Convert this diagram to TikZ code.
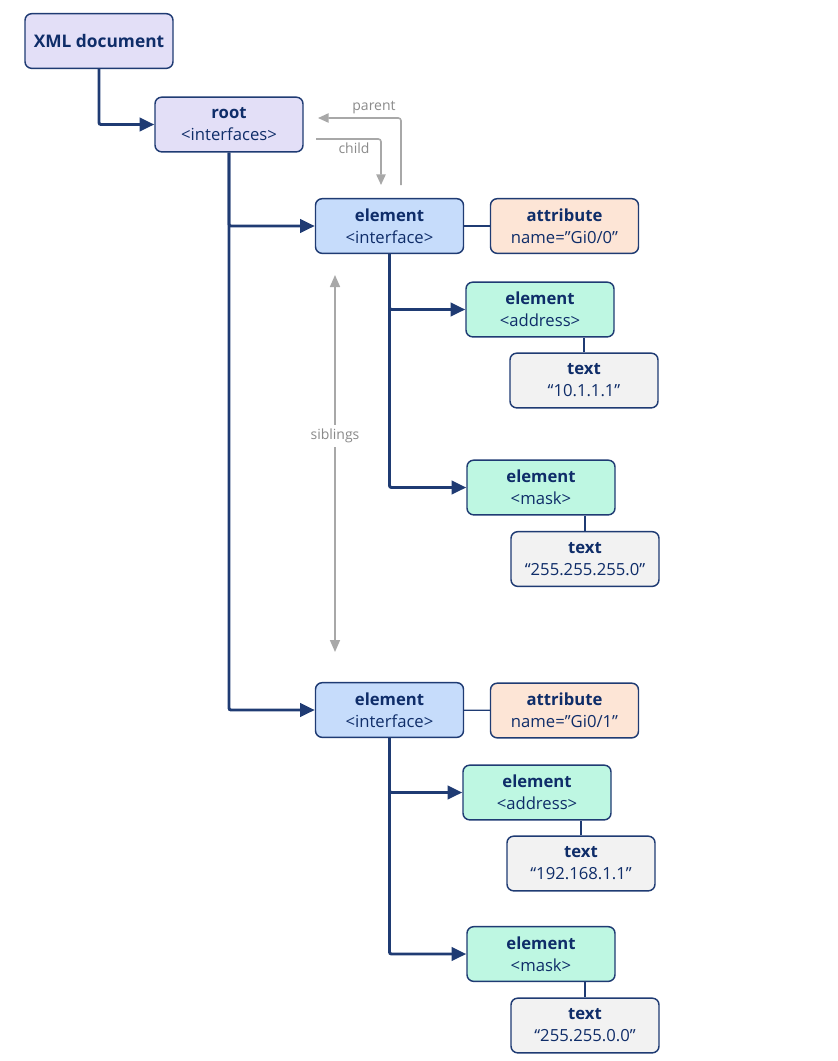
\documentclass[tikz,border=0pt]{standalone}
\usepackage{fontspec}
\setmainfont{Open Sans}
\usetikzlibrary{arrows.meta}
\definecolor{navy}{HTML}{1F3B73}
\definecolor{ink}{HTML}{0F2D69}
\definecolor{docfill}{HTML}{E3DFF7}
\definecolor{elemfill}{HTML}{C6DCFB}
\definecolor{attrfill}{HTML}{FDE5D6}
\definecolor{subfill}{HTML}{BEF7E2}
\definecolor{textfill}{HTML}{F2F2F2}
\definecolor{hint}{HTML}{A8A8A8}
\definecolor{hinttext}{HTML}{8A8A8A}
\tikzset{
  box/.style={draw=navy, line width=1.1pt, rounded corners=5pt, text=ink,
    minimum width=111pt, minimum height=41pt, align=center,
    font=\fontsize{12.5}{16.5}\selectfont, inner sep=2pt},
  docbox/.style={box, fill=docfill},
  elembox/.style={box, fill=elemfill},
  attrbox/.style={box, fill=attrfill},
  subbox/.style={box, fill=subfill},
  textbox/.style={box, fill=textfill},
  tree/.style={draw=navy, line width=2.2pt, -{Triangle[length=11pt,width=10pt]}},
  link/.style={draw=navy, line width=1pt},
  hintarrow/.style={draw=hint, line width=1.2pt, -{Triangle[length=8pt,width=7pt]}},
  hintlabel/.style={text=hinttext, font=\fontsize{10.5}{12}\selectfont}
}
\begin{document}
\begin{tikzpicture}[x=0.75pt, y=-0.75pt]
      \useasboundingbox (0,0) rectangle (838,1061);
      \draw
        (99,41) node[docbox, font=\fontsize{13}{15}\selectfont\bfseries] (doc){XML document}
        (229,124.5) node[docbox] (root){\textbf{root}\\<interfaces>}
        (389.5,226) node[elembox] (iface1){\textbf{element}\\<interface>}
        (564.5,226) node[attrbox] (attr1){\textbf{attribute}\\name=”Gi0/0”}
        (540,309.5) node[subbox] (addr1){\textbf{element}\\<address>}
        (584,380.5) node[textbox] (addrtxt1){\textbf{text}\\“10.1.1.1”}
        (541,487.5) node[subbox] (mask1){\textbf{element}\\<mask>}
        (585,559) node[textbox] (masktxt1){\textbf{text}\\“255.255.255.0”}
        (389.5,710) node[elembox] (iface2){\textbf{element}\\<interface>}
        (564.5,710.5) node[attrbox] (attr2){\textbf{attribute}\\name=”Gi0/1”}
        (537,792.5) node[subbox] (addr2){\textbf{element}\\<address>}
        (581,863.5) node[textbox] (addrtxt2){\textbf{text}\\“192.168.1.1”}
        (541,954) node[subbox] (mask2){\textbf{element}\\<mask>}
        (585,1025.5) node[textbox] (masktxt2){\textbf{text}\\“255.255.0.0”};
      % hints
      \coordinate (parentfrom) at (401,185);
      \coordinate (parentto) at (318,118);
      \coordinate (childfrom) at (316,139);
      \coordinate (childto) at (381,185);
      \coordinate (sibtop) at (335,275);
      \coordinate (sibbot) at (335,652);
      \begin{scope}[rounded corners=2pt]
        \draw[hintarrow] (parentfrom) |- (parentto);
        \draw[hintarrow] (childfrom) -| (childto);
      \end{scope}
      \node[hintlabel] at (374,108) {parent};
      \node[hintlabel] at (354,148) {child};
      \draw[hintarrow, {Triangle[length=9pt,width=7.5pt]}-{Triangle[length=9pt,width=7.5pt]}] (sibtop) -- (sibbot)
        node[pos=0.427, fill=white, hintlabel, inner sep=3pt] {siblings};
      % tree
      \begin{scope}[rounded corners=1.5pt]
        \draw[tree] (doc.south) |- (root.west);
        \draw[tree] (root.south) |- (iface1.west);
        \draw[tree] (root.south) |- (iface2.west);
        \draw[tree] (iface1.south) |- (addr1.west);
        \draw[tree] (iface1.south) |- (mask1.west);
        \draw[tree] (iface2.south) |- (addr2.west);
        \draw[tree] (iface2.south) |- (mask2.west);
      \end{scope}
      \begin{scope}[link]
        \draw (iface1) to (attr1);
        \draw (iface2) to (attr2);
        \draw (addrtxt1.north) to (addrtxt1.north |- addr1.south);
        \draw (masktxt1.north) to (masktxt1.north |- mask1.south);
        \draw (addrtxt2.north) to (addrtxt2.north |- addr2.south);
        \draw (masktxt2.north) to (masktxt2.north |- mask2.south);
      \end{scope}
    \end{tikzpicture}
\end{document}
